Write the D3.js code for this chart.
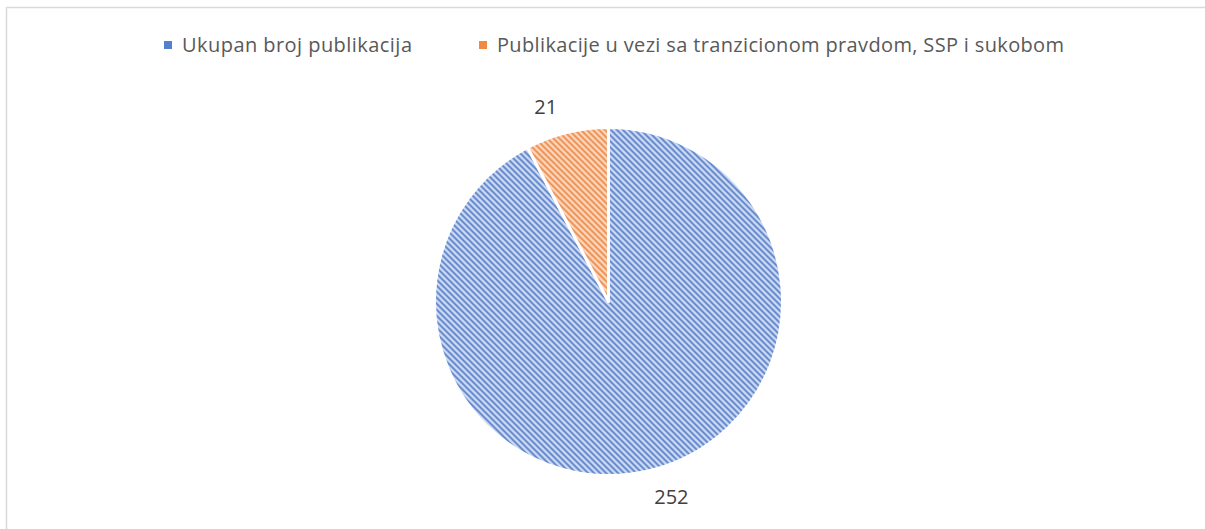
<!DOCTYPE html>
<html><head><meta charset="utf-8">
<script src="https://cdn.jsdelivr.net/npm/d3@7"></script>
<style>body{margin:0;background:#fff}svg{display:block}</style>
</head><body><svg id="c" width="1205" height="529"></svg>
<script>
const categories = ["Ukupan broj publikacija", "Publikacije u vezi sa tranzicionom pravdom, SSP i sukobom"];
const values = [252, 21];
const colors = ["#4472C4", "#ED7D31"];
const lightColors = ["#d3def3", "#fbdac4"];

const svg = d3.select("#c");
const W = 1205, H = 529;
svg.append("rect").attr("width", W).attr("height", H).attr("fill", "#fff");
// chart border
svg.append("path").attr("d", `M6.5,${H} L6.5,7.5 L${W},7.5`).attr("fill", "none").attr("stroke", "#d9d9d9").attr("stroke-width", 1.5);

const defs = svg.append("defs");
colors.forEach((c, i) => {
  const p = defs.append("pattern").attr("id", "pat" + i).attr("patternUnits", "userSpaceOnUse")
    .attr("width", 6).attr("height", 6);
  p.append("rect").attr("width", 6).attr("height", 6).attr("fill", lightColors[i]);
  p.append("path").attr("d", "M-1,-1 L7,7 M-1,5 L1,7 M5,-1 L7,1").attr("stroke", c).attr("stroke-width", 1.7).attr("opacity", 0.95);
});

const cx = 608.5, cy = 301.5, r = 174;
const pie = d3.pie().sort(null).value(d => d)(values);
const arc = d3.arc().innerRadius(0).outerRadius(r);
const g = svg.append("g").attr("transform", `translate(${cx},${cy})`);
g.selectAll("path.slice").data(pie).enter().append("path").attr("class", "slice")
  .attr("d", arc).attr("fill", (d, i) => `url(#pat${i})`)
  .attr("stroke", "#fff").attr("stroke-width", 3).attr("stroke-linejoin", "round");

const labelR = r + 31, labelShift = -0.07;
g.selectAll("text.lbl").data(pie).enter().append("text").attr("class", "lbl")
  .attr("transform", d => {
    const a = (d.startAngle + d.endAngle) / 2 + labelShift;
    return `translate(${labelR * Math.sin(a)},${-labelR * Math.cos(a)})`;
  })
  .attr("text-anchor", "middle").attr("dominant-baseline", "central")
  .attr("font-family", "Open Sans, sans-serif").attr("font-size", 20).attr("fill", "#404040")
  .text(d => d.data);

// legend
const legendX = [164, 479];
const legendW = [230, 567];
const leg = svg.append("g");
categories.forEach((c, i) => {
  leg.append("rect").attr("x", legendX[i]).attr("y", 41).attr("width", 8).attr("height", 8).attr("fill", colors[i]).attr("opacity", 0.9);
  leg.append("text").attr("x", legendX[i] + 18).attr("y", 52).attr("font-family", "Open Sans, sans-serif")
    .attr("font-size", 20).attr("fill", "#595959")
    .attr("textLength", legendW[i]).attr("lengthAdjust", "spacing").text(c);
});
</script></body></html>
